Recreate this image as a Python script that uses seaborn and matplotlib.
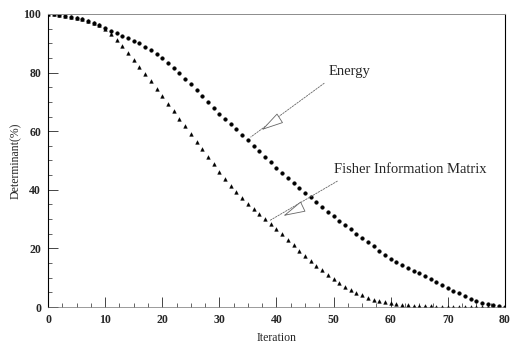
import matplotlib
matplotlib.use('Agg')
import matplotlib.pyplot as plt
from matplotlib.ticker import MultipleLocator
import seaborn as sns
import pandas as pd
import numpy as np

# values, one point per iteration
iteration = list(range(0, 81))
energy = [100.0, 99.9, 99.7, 99.4, 99.1, 98.7, 98.2, 97.6, 96.9, 96.1,
          95.2, 94.2, 93.4, 92.6, 91.8, 90.9, 89.9, 88.8, 87.6, 86.3,
          84.9, 83.3, 81.6, 79.8, 77.9, 76.0, 74.0, 72.0, 70.0, 68.0,
          66.0, 64.2, 62.4, 60.6, 58.8, 57.0, 55.1, 53.2, 51.3, 49.4,
          47.5, 45.8, 44.1, 42.4, 40.7, 39.0, 37.4, 35.8, 34.2, 32.6,
          31.0, 29.5, 28.0, 26.5, 25.0, 23.5, 22.1, 20.7, 19.3, 17.9,
          16.5, 15.4, 14.4, 13.4, 12.4, 11.5, 10.5, 9.5, 8.5, 7.5,
          6.5, 5.6, 4.7, 3.8, 2.9, 2.1, 1.5, 1.0, 0.6, 0.3, 0.0]
fisher = [100.0, 99.9, 99.7, 99.4, 99.1, 98.7, 98.2, 97.6, 96.9, 96.1,
          95.0, 93.3, 91.2, 89.0, 86.7, 84.3, 81.9, 79.5, 77.0, 74.5,
          72.0, 69.4, 66.8, 64.2, 61.6, 59.0, 56.4, 53.8, 51.2, 48.7,
          46.2, 43.8, 41.4, 39.2, 37.1, 35.2, 33.4, 31.7, 30.0, 28.4,
          26.8, 24.9, 23.0, 21.1, 19.3, 17.5, 15.8, 14.1, 12.5, 10.9,
          9.5, 8.2, 7.0, 5.9, 4.9, 4.0, 3.2, 2.5, 2.0, 1.6,
          1.3, 1.0, 0.8, 0.6, 0.5, 0.4, 0.3, 0.25, 0.2, 0.15,
          0.1, 0.1, 0.1, 0.1, 0.1, 0.05, 0.05, 0.05, 0.0, 0.0, 0.0]
x_ticks = [0, 10, 20, 30, 40, 50, 60, 70, 80]
y_ticks = [0, 20, 40, 60, 80, 100]

df = pd.DataFrame({'Iteration': iteration, 'Energy': energy, 'Fisher': fisher})

sns.set_style('ticks')
plt.rcParams['font.family'] = ['Liberation Serif', 'DejaVu Serif']

fig = plt.figure(figsize=(5.11, 3.47), dpi=100)
ax = fig.add_axes([0.094, 0.115, 0.894, 0.845])

sns.scatterplot(data=df, x='Iteration', y='Energy', marker='o', s=7,
                color='black', edgecolor='black', linewidth=0.3, ax=ax)
sns.scatterplot(data=df, x='Iteration', y='Fisher', marker='^', s=7,
                color='black', edgecolor='black', linewidth=0.3, ax=ax)

ax.set_xlim(0, 80)
ax.set_ylim(0, 100)
ax.set_xticks(x_ticks)
ax.set_yticks(y_ticks)
ax.xaxis.set_minor_locator(MultipleLocator(2.5))
ax.yaxis.set_minor_locator(MultipleLocator(5))
ax.tick_params(axis='both', which='major', direction='in', length=7, width=0.6,
               labelsize=8.5, pad=5)
ax.tick_params(axis='both', which='minor', direction='in', length=3, width=0.5)
for lab in ax.get_xticklabels() + ax.get_yticklabels():
    lab.set_fontweight('bold')

for side in ['left', 'right']:
    ax.spines[side].set_linewidth(0.8)
    ax.spines[side].set_color('black')
ax.spines['top'].set_color('0.55')
ax.spines['top'].set_linewidth(0.7)
ax.spines['bottom'].set_color('0.45')
ax.spines['bottom'].set_linewidth(0.5)

ax.set_xlabel('Iteration', fontsize=8.5, labelpad=4)
ax.set_ylabel('Determinant(%)', fontsize=8.5, labelpad=1)

# callouts: dashed leader to the curve, open arrowhead part way along it
line = dict(arrowstyle='-', color='0.4', lw=0.6, linestyle=(0, (2, 1.5)),
            shrinkA=3, shrinkB=0, relpos=(0.08, 0.0))
head = dict(arrowstyle='-|>,head_length=1.1,head_width=0.28', color='0.4',
            fc='white', lw=0.6, mutation_scale=13, shrinkA=0, shrinkB=0)
ax.annotate('Energy', xy=(35.5, 58), xytext=(52.8, 80.5), fontsize=10.5,
            ha='center', va='center', arrowprops=line)
ax.annotate('', xy=(37.4, 60.4), xytext=(40.2, 63.9), arrowprops=head)
ax.annotate('Fisher Information Matrix', xy=(38.8, 29.5), xytext=(63.5, 47),
            fontsize=10.5, ha='center', va='center', arrowprops=line)
ax.annotate('', xy=(41.2, 31.1), xytext=(43.9, 33.6), arrowprops=head)

fig.savefig('out.png', dpi=100)
